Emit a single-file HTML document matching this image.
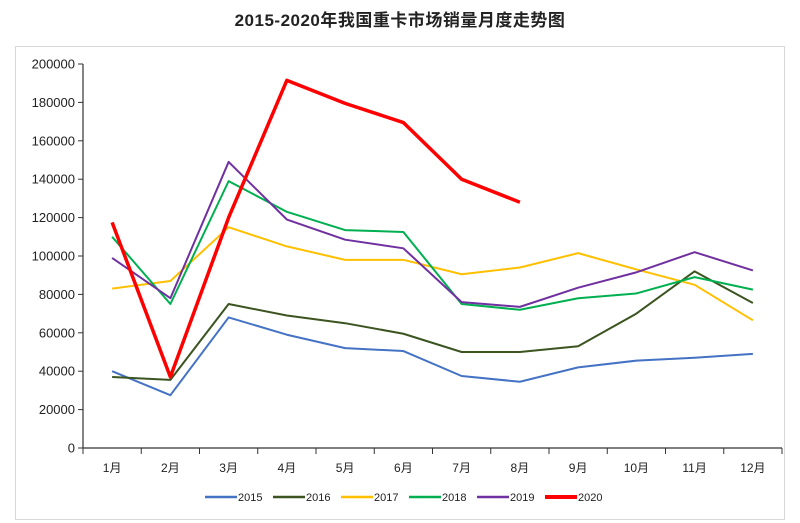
<!DOCTYPE html>
<html><head><meta charset="utf-8"><style>
body{margin:0;background:#fff;width:800px;height:523px;overflow:hidden;font-family:"Liberation Sans","Noto Sans CJK SC",sans-serif}
#title{position:absolute;left:0;top:6px;width:800px;text-align:center;font-size:17px;font-weight:bold;color:#222;letter-spacing:0.5px}
svg{position:absolute;left:0;top:0}
</style></head><body>
<div id="title">2015-2020年我国重卡市场销量月度走势图</div>
<svg id="chart" width="800" height="523"></svg>
<script>
const categories=["1月","2月","3月","4月","5月","6月","7月","8月","9月","10月","11月","12月"];
const yTicks=[0,20000,40000,60000,80000,100000,120000,140000,160000,180000,200000];
const seriesNames=["2015","2016","2017","2018","2019","2020"];
const s2015=[40000,27500,68000,59000,52000,50500,37500,34500,42000,45500,47000,49000];
const s2016=[37000,35500,75000,69000,65000,59500,50000,50000,53000,70000,92000,75500];
const s2017=[83000,87000,115000,105000,98000,98000,90500,94000,101500,93000,85000,66500];
const s2018=[110000,75000,139000,123000,113500,112500,75000,72000,78000,80500,89000,82500];
const s2019=[99000,78000,149000,119000,108500,104000,76000,73500,83500,91500,102000,92500];
const s2020=[117500,37000,120000,191500,179500,169500,140000,128000];
const seriesValues=[s2015,s2016,s2017,s2018,s2019,s2020];
const colors=["#4472c4","#3b5420","#ffc000","#00b050","#7030a0","#ff0000"];
const widths=[2,2,2,2,2,3.5];
const NS="http://www.w3.org/2000/svg";
const svg=document.getElementById('chart');
const X0=83,X1=782,Y0=448,Y1=64,YMAX=200000;
const step=(X1-X0)/categories.length;
const xs=i=>X0+step*(i+0.5);
const ys=v=>Y0-(v/YMAX)*(Y0-Y1);
function mk(t,a){const e=document.createElementNS(NS,t);for(const k in a)e.setAttribute(k,a[k]);svg.appendChild(e);return e;}
let e=mk('rect',{x:15.5,y:46.5,width:769,height:473,fill:'none',stroke:'#d8d8d8'});


e=mk('line',{x1:X0,y1:Y1,x2:X0,y2:Y0,stroke:'#333','stroke-width':1.2});


e=mk('line',{x1:X0,y1:Y0,x2:X1,y2:Y0,stroke:'#333','stroke-width':1.2});


yTicks.forEach(v=>{
  const y=ys(v);
  mk('line',{x1:X0-5,y1:y,x2:X0,y2:y,stroke:'#333'});
  const t=mk('text',{x:X0-8,y:y+4.5,'text-anchor':'end','font-size':13,fill:'#222'});
  t.textContent=v;
  
  
});
for(let i=0;i<=categories.length;i++){const x=X0+step*i;mk('line',{x1:x,y1:Y0,x2:x,y2:Y0+6,stroke:'#333'});}
categories.forEach((c,i)=>{
  const t=mk('text',{x:xs(i),y:Y0+24,'text-anchor':'middle','font-size':12,fill:'#222'});
  t.textContent=c;
  
  
});
seriesValues.forEach((vals,si)=>{
  const p=mk('polyline',{points:vals.map((v,i)=>xs(i)+','+ys(v)).join(' '),fill:'none',stroke:colors[si],'stroke-width':widths[si],'stroke-linejoin':'round'});
  
  
});
let lx=205;
seriesNames.forEach((n,si)=>{
  const g=document.createElementNS(NS,'g');svg.appendChild(g);
  
  
  const l=document.createElementNS(NS,'line');
  l.setAttribute('x1',lx);l.setAttribute('x2',lx+32);l.setAttribute('y1',497);l.setAttribute('y2',497);
  l.setAttribute('stroke',colors[si]);l.setAttribute('stroke-width',widths[si]+0.5);g.appendChild(l);
  const t=document.createElementNS(NS,'text');
  t.setAttribute('x',lx+33);t.setAttribute('y',501);t.setAttribute('font-size',11);t.setAttribute('fill','#222');
  t.textContent=n;g.appendChild(t);
  lx+=68;
});
</script>
</body></html>
